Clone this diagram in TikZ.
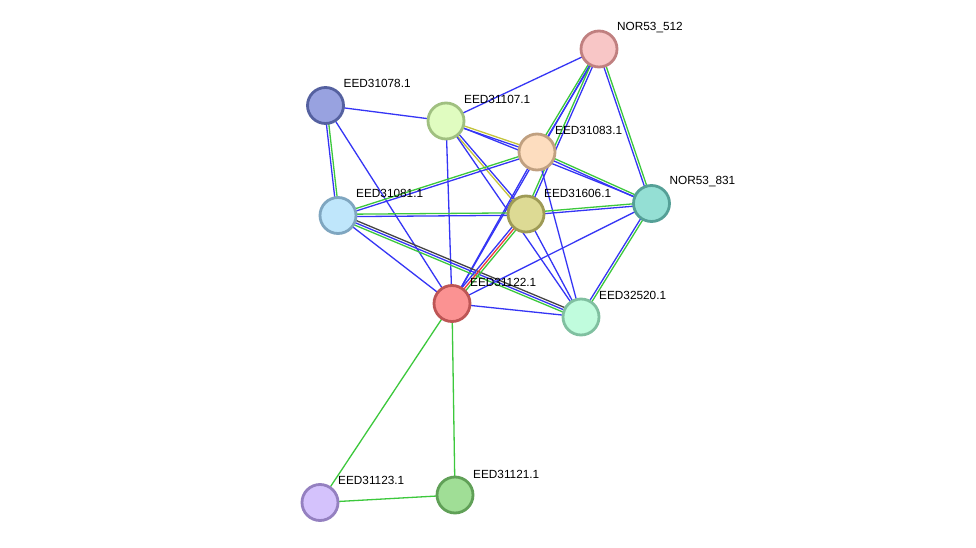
\documentclass[tikz,border=0pt]{standalone}
\usepackage{fontspec}
\setmainfont{Liberation Sans}
\usetikzlibrary{calc,backgrounds}
\definecolor{cblue}{HTML}{3535F5}
\definecolor{cgreen}{HTML}{3CC83C}
\definecolor{cred}{HTML}{F03C3C}
\definecolor{cyel}{HTML}{C4C43A}
\definecolor{cgray}{HTML}{444444}
\tikzset{
  prot/.style={circle, minimum size=36pt, inner sep=0pt, line width=2.8pt, fill=#1},
  lbl/.style={anchor=west, inner sep=0pt, font=\fontsize{11.8}{14}\selectfont, text=black},
  edge/.style={line width=1.3pt},
}
\newcommand\multiedge[3]{%
  \foreach \cc [count=\ii] in {#3} {\xdef\nlines{\ii}}%
  \foreach \cc [count=\ii] in {#3} {%
    \pgfmathsetmacro\off{(\ii-(\nlines+1)/2)*2.4}%
    \draw[edge, \cc] ($(#1)!\off pt!90:(#2)$) -- ($(#2)!\off pt!-90:(#1)$);
  }%
}
\begin{document}
\begin{tikzpicture}[x=1pt,y=-1pt]
\useasboundingbox (0,0) rectangle (976,548);
\definecolor{f512}{HTML}{F8C6C6}
\definecolor{f078}{HTML}{98A2E0}
\definecolor{f107}{HTML}{E0FCC0}
\definecolor{f083}{HTML}{FDDDBF}
\definecolor{f081}{HTML}{BFE6FB}
\definecolor{f606}{HTML}{DDDA94}
\definecolor{f831}{HTML}{94DFD4}
\definecolor{f122}{HTML}{FB9292}
\definecolor{f520}{HTML}{C0FCDD}
\definecolor{f123}{HTML}{D4C2FC}
\definecolor{f121}{HTML}{A0DE96}
\node[prot=f512, draw={rgb,255:red,192;green,128;blue,128}] (n512) at (599,49) {};
\node[prot=f078, draw={rgb,255:red,85;green,97;blue,160}] (e078) at (325.5,105.5) {};
\node[prot=f107, draw={rgb,255:red,160;green,192;blue,128}] (e107) at (446,121) {};
\node[prot=f083, draw={rgb,255:red,192;green,160;blue,128}] (e083) at (537,152) {};
\node[prot=f081, draw={rgb,255:red,127;green,166;blue,192}] (e081) at (338,215.5) {};
\node[prot=f606, draw={rgb,255:red,158;green,154;blue,85}] (e606) at (526,214) {};
\node[prot=f831, draw={rgb,255:red,85;green,160;blue,151}] (n831) at (651.5,203.5) {};
\node[prot=f122, draw={rgb,255:red,189;green,85;blue,85}] (e122) at (452,303.5) {};
\node[prot=f520, draw={rgb,255:red,128;green,192;blue,160}] (e520) at (581,317) {};
\node[prot=f123, draw={rgb,255:red,148;green,128;blue,192}] (e123) at (320,502.5) {};
\node[prot=f121, draw={rgb,255:red,96;green,160;blue,87}] (e121) at (455,495) {};

\begin{pgfonlayer}{background}
\fill[white] (0,0) rectangle (976,548);
\multiedge{n512}{e107}{cblue}
\multiedge{n512}{e083}{cgreen,cblue}
\multiedge{n512}{e606}{cgreen,cblue}
\multiedge{n512}{e122}{cblue}
\multiedge{n512}{n831}{cblue,cgreen}
\multiedge{e078}{e107}{cblue}
\multiedge{e078}{e081}{cblue,cgreen}
\multiedge{e078}{e122}{cblue}
\multiedge{e107}{e083}{cblue,cyel}
\multiedge{e107}{n831}{cblue}
\multiedge{e107}{e606}{cyel,cblue}
\multiedge{e107}{e520}{cblue}
\multiedge{e107}{e122}{cblue}
\multiedge{e083}{e081}{cgreen,cblue}
\multiedge{e083}{n831}{cblue,cgreen}
\multiedge{e083}{e122}{cblue}
\multiedge{e083}{e520}{cblue}
\multiedge{e081}{e606}{cblue,cgreen}
\multiedge{e081}{e122}{cblue}
\multiedge{e081}{e520}{cgreen,cblue,cgray}
\multiedge{e606}{n831}{cblue,cgreen}
\multiedge{e606}{e122}{cblue,cred,cgreen}
\multiedge{e606}{e520}{cblue}
\multiedge{n831}{e122}{cblue}
\multiedge{n831}{e520}{cblue,cgreen}
\multiedge{e122}{e520}{cblue}
\multiedge{e122}{e123}{cgreen}
\multiedge{e122}{e121}{cgreen}
\multiedge{e123}{e121}{cgreen}
\end{pgfonlayer}

\node[lbl] (l512) at ($(n512)+(18,-21)$) {NOR53\_512};
\node[lbl] (l078) at ($(e078)+(18,-22)$) {EED31078.1};
\node[lbl] (l107) at ($(e107)+(18,-22)$) {EED31107.1};
\node[lbl] (l083) at ($(e083)+(18,-22)$) {EED31083.1};
\node[lbl] (l081) at ($(e081)+(18,-22)$) {EED31081.1};
\node[lbl] (l606) at ($(e606)+(18,-21)$) {EED31606.1};
\node[lbl] (l831) at ($(n831)+(18,-22)$) {NOR53\_831};
\node[lbl] (l122) at ($(e122)+(18,-21)$) {EED31122.1};
\node[lbl] (l520) at ($(e520)+(18,-22)$) {EED32520.1};
\node[lbl] (l123) at ($(e123)+(18,-22)$) {EED31123.1};
\node[lbl] (l121) at ($(e121)+(18,-21)$) {EED31121.1};
\end{tikzpicture}
\end{document}
